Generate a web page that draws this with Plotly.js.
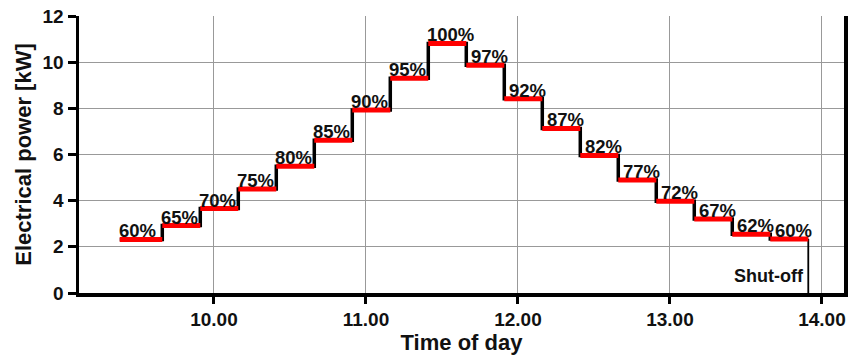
<!DOCTYPE html>
<html>
<head>
<meta charset="utf-8">
<script src="https://cdn.plot.ly/plotly-3.0.1.min.js"></script>
<style>html,body{margin:0;padding:0;background:#fff;}#chart{width:859px;height:356px;}</style>
</head>
<body>
<div id="chart"></div>
<script>
// Step start times (hours of day) and end of last step
const stepStarts = [9.38, 9.66, 9.91, 10.16, 10.41, 10.66, 10.91, 11.16, 11.41, 11.66, 11.91, 12.16, 12.41, 12.66, 12.91, 13.16, 13.41, 13.66];
const stepEnd = 13.91;
// Electrical power per step (kW)
const power = [2.32, 2.92, 3.66, 4.51, 5.49, 6.62, 7.93, 9.30, 10.81, 9.87, 8.41, 7.13, 5.96, 4.89, 3.98, 3.21, 2.55, 2.34];
// Load labels
const loadLabels = ['60%','65%','70%','75%','80%','85%','90%','95%','100%','97%','92%','87%','82%','77%','72%','67%','62%','60%'];
// Axis ticks
const xTicks = [10, 11, 12, 13, 14];
const xTickText = ['10.00', '11.00', '12.00', '13.00', '14.00'];
const yTicks = [0, 2, 4, 6, 8, 10, 12];
const shutOffLabel = 'Shut-off';

const stepEnds = stepStarts.slice(1).concat([stepEnd]);

// black step line
const bx = [], by = [];
stepStarts.forEach((s, i) => { bx.push(s); by.push(power[i]); });
bx.push(stepEnd); by.push(power[power.length - 1]);

// red horizontal segments
const rx = [], ry = [];
stepStarts.forEach((s, i) => {
  rx.push(s, stepEnds[i], null);
  ry.push(power[i], power[i], null);
});

const traces = [
  {x: bx, y: by, mode: 'lines', line: {shape: 'hv', color: '#000', width: 3.5}, hoverinfo: 'skip', showlegend: false},
  {x: [stepEnd, stepEnd], y: [power[power.length - 1], 0], mode: 'lines', line: {color: '#000', width: 1.8}, hoverinfo: 'skip', showlegend: false},
  {x: rx, y: ry, mode: 'lines', line: {color: '#ff0000', width: 5}, hoverinfo: 'skip', showlegend: false, connectgaps: false}
];

const font = 'Liberation Sans, Arial, sans-serif';
const annotations = loadLabels.map((t, i) => {
  const descending = i > 0 && power[i] < power[i - 1];
  return {
    x: stepStarts[i], y: power[i], text: '<b>' + t + '</b>', showarrow: false,
    xanchor: 'left', yanchor: 'bottom', xshift: descending ? 3 : -3, yshift: -4,
    font: {family: font, size: 18.5, color: '#111'}
  };
});
annotations.push({
  x: stepEnd, y: 0, text: '<b>' + shutOffLabel + '</b>', showarrow: false,
  xanchor: 'right', yanchor: 'bottom', xshift: -2, yshift: 5,
  font: {family: font, size: 18, color: '#111'}
});

const layout = {
  width: 859, height: 356,
  margin: {l: 79, r: 15, t: 16, b: 63},
  paper_bgcolor: '#fff', plot_bgcolor: '#fff',
  showlegend: false,
  font: {family: font, color: '#111'},
  xaxis: {
    range: [9.112, 14.145],
    tickvals: xTicks, ticktext: xTickText,
    tickfont: {family: font, size: 19, weight: 'bold', color: '#111'},
    showgrid: true, gridcolor: '#999', gridwidth: 1,
    showline: true, linecolor: '#000', linewidth: 3.5,
    ticks: 'outside', ticklen: 7, tickwidth: 3, tickcolor: '#000',
    zeroline: false,
    title: {text: '<b>Time of day</b>', font: {family: font, size: 22, color: '#111'}, standoff: 2}
  },
  yaxis: {
    range: [0, 12],
    tickvals: yTicks,
    tickfont: {family: font, size: 19, weight: 'bold', color: '#111'},
    showgrid: true, gridcolor: '#999', gridwidth: 1,
    showline: true, linecolor: '#000', linewidth: 3.5, mirror: true,
    ticks: 'outside', ticklen: 8, tickwidth: 3, tickcolor: '#000',
    zeroline: false,
    title: {text: '<b>Electrical power [kW]</b>', font: {family: font, size: 22, color: '#111'}, standoff: 6}
  },
  annotations: annotations
};

Plotly.newPlot('chart', traces, layout, {staticPlot: true, displayModeBar: false});
</script>
</body>
</html>
